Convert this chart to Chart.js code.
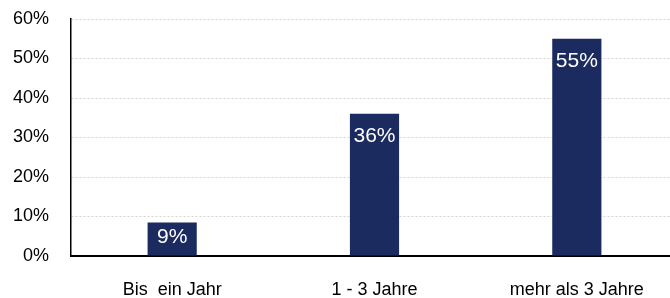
<!DOCTYPE html>
<html>
<head>
<meta charset="utf-8">
<script src="https://cdn.jsdelivr.net/npm/chart.js@4/dist/chart.umd.min.js"></script>
<style>
  html, body { margin: 0; padding: 0; background: #fff; }
  #wrap { width: 670px; height: 298px; overflow: hidden; }
</style>
</head>
<body>
<div id="wrap"><canvas id="chart" width="680" height="298"></canvas></div>
<script>
var categories = ["Bis  ein Jahr", "1 - 3 Jahre", "mehr als 3 Jahre"];
var values = [8.5, 36, 55];
var yTicks = [0, 10, 20, 30, 40, 50, 60];

var navy = '#1b2a5f';
var fontFam = '"Liberation Sans", Arial, sans-serif';

// labels inside the top of each bar
var barLabels = {
    id: 'barLabels',
    afterDatasetsDraw: function (chart) {
        var ctx = chart.ctx;
        var meta = chart.getDatasetMeta(0);
        ctx.save();
        ctx.font = '21px ' + fontFam;
        ctx.fillStyle = '#ffffff';
        ctx.textAlign = 'center';
        ctx.textBaseline = 'middle';
        meta.data.forEach(function (bar, i) {
            var h = bar.base - bar.y;
            var off = Math.min(22, h / 2 - 2);
            ctx.fillText(Math.round(values[i]) + '%', bar.x, bar.y + off);
        });
        ctx.restore();
    }
};

new Chart(document.getElementById('chart'), {
    type: 'bar',
    data: {
        labels: categories,
        datasets: [{
            data: values,
            backgroundColor: navy,
            borderWidth: 0,
            barPercentage: 0.243,
            categoryPercentage: 1
        }]
    },
    options: {
        responsive: false,
        animation: false,
        layout: { padding: { top: 19, right: 2, left: 0, bottom: 0 } },
        plugins: { legend: { display: false }, tooltip: { enabled: false } },
        scales: {
            x: {
                grid: { display: false, drawTicks: false },
                border: { color: '#000', width: 2 },
                ticks: { color: '#000', padding: 23, font: { family: fontFam, size: 18 } },
                afterFit: function (s) { s.height = 42; }
            },
            y: {
                min: 0,
                max: 60,
                afterBuildTicks: function (s) { s.ticks = yTicks.map(function (v) { return { value: v }; }); },
                grid: {
                    drawTicks: false,
                    color: function (c) { return c.tick && c.tick.value === 0 ? 'rgba(0,0,0,0)' : '#d4d4d4'; },
                    lineWidth: 1
                },
                border: { color: '#000', width: 1.5, dash: [2, 2] },
                ticks: {
                    color: '#000',
                    padding: 22,
                    font: { family: fontFam, size: 18 },
                    callback: function (v) { return v + '%'; }
                },
                afterFit: function (s) {
                    s.width = 71;
                    s.paddingTop = 0;
                    s.paddingBottom = 0;
                }
            }
        }
    },
    plugins: [barLabels]
});
</script>
</body>
</html>
